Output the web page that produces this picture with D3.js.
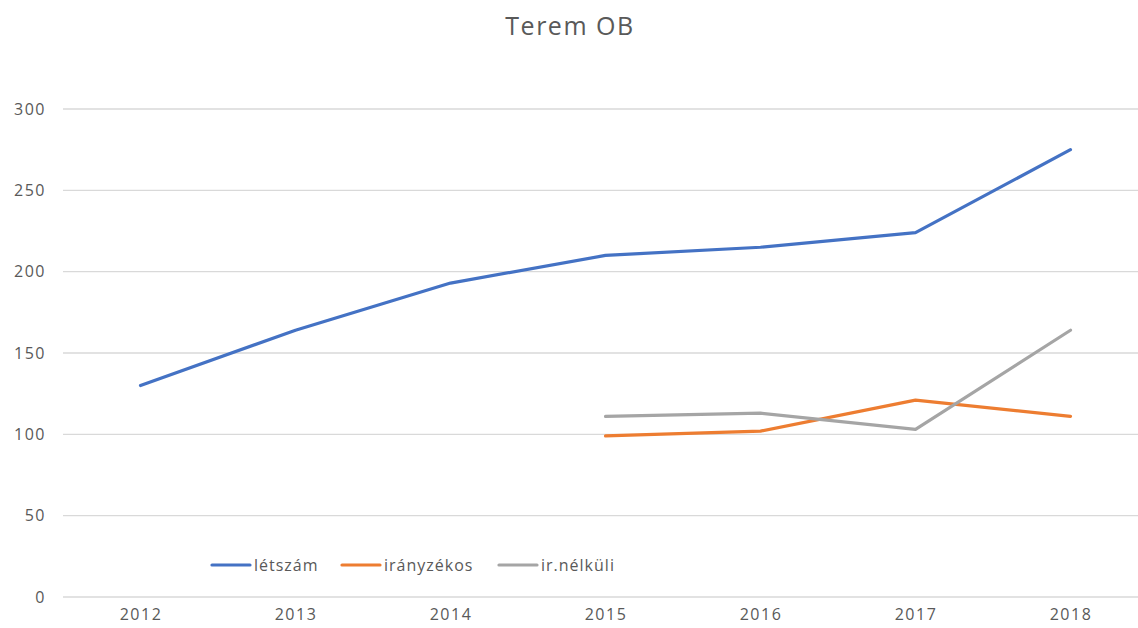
<!DOCTYPE html>
<html>
<head>
<meta charset="utf-8">
<script src="https://cdn.jsdelivr.net/npm/d3@7"></script>
<style>
  body { margin: 0; background: #fff; }
  svg { display: block; }
  .tick text { fill: #595959; font-family: "Open Sans", sans-serif; font-size: 16px; letter-spacing: 1.5px; }
</style>
</head>
<body>
<svg id="chart" width="1138" height="628"></svg>
<script>
var years = ["2012", "2013", "2014", "2015", "2016", "2017", "2018"];
var letszam = [130, 164, 193, 210, 215, 224, 275];
var iranyzekos = [null, null, null, 99, 102, 121, 111];
var irNelkuli = [null, null, null, 111, 113, 103, 164];
var seriesNames = ["létszám", "irányzékos", "ir.nélküli"];
var seriesColors = ["#4472C4", "#ED7D31", "#A5A5A5"];
var yTicks = [0, 50, 100, 150, 200, 250, 300];

var svg = d3.select("#chart");
var margin = {top: 109, left: 63, bottom: 31};
var plotRight = 1148;
var height = 628 - margin.bottom - margin.top;

var x = d3.scalePoint()
    .domain(years)
    .range([margin.left, plotRight])
    .padding(0.5);

var y = d3.scaleLinear()
    .domain([0, 300])
    .range([margin.top + height, margin.top]);

// title
svg.append("text")
    .attr("x", 570)
    .attr("y", 35)
    .attr("text-anchor", "middle")
    .style("font-family", "'Open Sans', sans-serif")
    .style("font-size", "25px")
    .style("letter-spacing", "1.5px")
    .style("fill", "#595959")
    .text("Terem OB");

// gridlines
svg.append("g")
    .selectAll("line")
    .data(yTicks)
    .enter()
    .append("line")
    .attr("x1", margin.left)
    .attr("x2", plotRight)
    .attr("y1", function(d) { return y(d); })
    .attr("y2", function(d) { return y(d); })
    .attr("stroke", "#D9D9D9")
    .attr("stroke-width", 1.3);

var yAxis = d3.axisLeft(y).tickValues(yTicks).tickSize(0).tickPadding(0);
svg.append("g")
    .attr("transform", "translate(46,0)")
    .call(yAxis)
    .call(function(g) { g.select(".domain").remove(); });

var xAxis = d3.axisBottom(x).tickSize(0).tickPadding(12);
svg.append("g")
    .attr("transform", "translate(0," + y(0) + ")")
    .call(xAxis)
    .call(function(g) { g.select(".domain").remove(); });

// lines
var allSeries = [letszam, iranyzekos, irNelkuli];
var line = d3.line()
    .defined(function(d) { return d != null; })
    .x(function(d, i) { return x(years[i]); })
    .y(function(d) { return y(d); });

for (var k = 0; k < allSeries.length; k++) {
    svg.append("path")
        .datum(allSeries[k])
        .attr("fill", "none")
        .attr("stroke", seriesColors[k])
        .attr("stroke-width", 3.2)
        .attr("stroke-linejoin", "round")
        .attr("stroke-linecap", "round")
        .attr("d", line);
}

// legend
var legendX = [212, 342, 499];
var legend = svg.append("g");
for (var k = 0; k < seriesNames.length; k++) {
    legend.append("line")
        .attr("x1", legendX[k])
        .attr("x2", legendX[k] + 38)
        .attr("y1", 565)
        .attr("y2", 565)
        .attr("stroke", seriesColors[k])
        .attr("stroke-width", 3.2)
        .attr("stroke-linecap", "round");
    legend.append("text")
        .attr("x", legendX[k] + 42)
        .attr("y", 571)
        .style("font-family", "'Open Sans', sans-serif")
        .style("font-size", "16px")
        .style("letter-spacing", "1px")
        .style("fill", "#595959")
        .text(seriesNames[k]);
}
</script>
</body>
</html>
